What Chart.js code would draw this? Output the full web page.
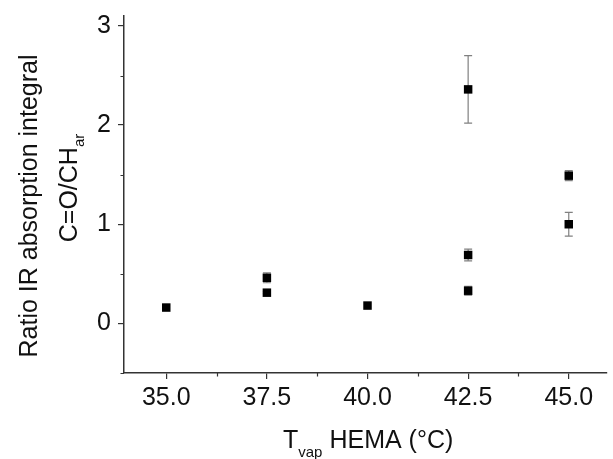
<!DOCTYPE html>
<html>
<head>
<meta charset="utf-8">
<script src="https://cdn.jsdelivr.net/npm/chart.js@4.4.0/dist/chart.umd.min.js"></script>
<style>
  html, body { margin: 0; padding: 0; background: #fff; }
  canvas { display: block; }
</style>
</head>
<body>
<canvas id="chart" width="613" height="459"></canvas>
<script>
// temperatures (°C), ratio values and their error half-widths
const tempValues = [35, 37.5, 37.5, 40, 42.5, 42.5, 42.5, 45, 45];
const ratioValues = [0.16, 0.46, 0.31, 0.18, 2.36, 0.69, 0.33, 1.49, 1.0];
const errorValues = [0, 0.05, 0.01, 0, 0.34, 0.06, 0.045, 0.05, 0.12];

const xMajorTicks = [35, 37.5, 40, 42.5, 45];
const xMinorTicks = [36.25, 38.75, 41.25, 43.75];
const yMajorTicks = [0, 1, 2, 3];
const yMinorTicks = [-0.5, 0.5, 1.5, 2.5];

const FONT = '"Liberation Sans", Arial, sans-serif';
const AXIS_COLOR = '#333';

const points = tempValues.map((x, i) => ({ x, y: ratioValues[i] }));

const errorBars = {
  id: 'errorBars',
  beforeDatasetsDraw(chart) {
    const { ctx, scales: { x, y } } = chart;
    ctx.save();
    ctx.strokeStyle = '#808080';
    ctx.lineWidth = 1.2;
    points.forEach((p, i) => {
      const err = errorValues[i];
      if (!err) return;
      const px = x.getPixelForValue(p.x);
      const top = y.getPixelForValue(p.y + err);
      const bottom = y.getPixelForValue(p.y - err);
      ctx.beginPath();
      ctx.moveTo(px, top);
      ctx.lineTo(px, bottom);
      ctx.moveTo(px - 4, top);
      ctx.lineTo(px + 4, top);
      ctx.moveTo(px - 4, bottom);
      ctx.lineTo(px + 4, bottom);
      ctx.stroke();
    });
    ctx.restore();
  }
};

function drawSubscripted(ctx, main, sub, x, y, subDrop, alignCenter) {
  ctx.font = '25px ' + FONT;
  const wMain = ctx.measureText(main).width;
  ctx.font = '15px ' + FONT;
  const wSub = ctx.measureText(sub).width;
  const start = alignCenter ? x - (wMain + wSub) / 2 : x;
  ctx.font = '25px ' + FONT;
  ctx.fillText(main, start, y);
  ctx.font = '15px ' + FONT;
  ctx.fillText(sub, start + wMain, y + subDrop);
  return start + wMain + wSub;
}

const minorTicksAndTitles = {
  id: 'minorTicksAndTitles',
  afterDraw(chart) {
    const { ctx, chartArea, scales: { x, y } } = chart;
    ctx.save();
    ctx.strokeStyle = AXIS_COLOR;
    ctx.lineWidth = 1.2;
    ctx.beginPath();
    xMinorTicks.forEach((v) => {
      const px = Math.round(x.getPixelForValue(v)) + 0.5;
      ctx.moveTo(px, chartArea.bottom);
      ctx.lineTo(px, chartArea.bottom + 3.5);
    });
    yMinorTicks.forEach((v) => {
      const py = Math.round(y.getPixelForValue(v)) + 0.5;
      ctx.moveTo(chartArea.left, py);
      ctx.lineTo(chartArea.left - 3.5, py);
    });
    ctx.stroke();

    ctx.fillStyle = '#111';
    ctx.textAlign = 'left';

    // x title: T_vap HEMA (°C)
    ctx.textBaseline = 'alphabetic';
    const end = drawSubscripted(ctx, 'T', 'vap', 283, 448, 9, false);
    ctx.font = '25px ' + FONT;
    ctx.fillText(' HEMA (°C)', end, 448);

    // y title, two rotated lines
    ctx.save();
    ctx.translate(37, 206);
    ctx.rotate(-Math.PI / 2);
    ctx.textAlign = 'center';
    ctx.font = '25px ' + FONT;
    ctx.fillText('Ratio IR absorption integral', 0, 0);
    ctx.restore();

    ctx.save();
    ctx.translate(77, 188);
    ctx.rotate(-Math.PI / 2);
    drawSubscripted(ctx, 'C=O/CH', 'ar', 0, 0, 7, true);
    ctx.restore();

    ctx.restore();
  }
};

new Chart(document.getElementById('chart'), {
  type: 'scatter',
  data: {
    datasets: [
      {
        data: points,
        pointStyle: 'rect',
        pointRadius: 6,
        pointHoverRadius: 6,
        backgroundColor: '#000',
        borderColor: '#000',
        borderWidth: 0
      }
    ]
  },
  options: {
    responsive: false,
    animation: false,
    layout: { padding: { top: 16, right: 0, left: 0, bottom: 0 } },
    plugins: { legend: { display: false }, tooltip: { enabled: false } },
    scales: {
      x: {
        type: 'linear',
        min: 33.95,
        max: 45.95,
        afterBuildTicks: (scale) => {
          scale.ticks = xMajorTicks.map((value) => ({ value }));
        },
        afterFit: (scale) => {
          scale.height = 86;
          scale.paddingLeft = 0;
          scale.paddingRight = 0;
        },
        ticks: {
          font: { family: FONT, size: 25 },
          color: '#111',
          padding: 4,
          maxRotation: 0,
          callback: (value) => Number(value).toFixed(1)
        },
        grid: { drawOnChartArea: false, tickLength: 6, color: AXIS_COLOR, lineWidth: 1.2 },
        border: { display: true, color: AXIS_COLOR, width: 1.5 }
      },
      y: {
        type: 'linear',
        min: -0.5,
        max: 3.1,
        afterBuildTicks: (scale) => {
          scale.ticks = yMajorTicks.map((value) => ({ value }));
        },
        afterFit: (scale) => {
          scale.width = 124;
          scale.paddingTop = 0;
          scale.paddingBottom = 0;
        },
        ticks: {
          font: { family: FONT, size: 25 },
          color: '#111',
          padding: 7,
          callback: (value) => String(value)
        },
        grid: { drawOnChartArea: false, tickLength: 6, color: AXIS_COLOR, lineWidth: 1.2 },
        border: { display: true, color: AXIS_COLOR, width: 1.5 }
      }
    }
  },
  plugins: [errorBars, minorTicksAndTitles]
});
</script>
</body>
</html>
